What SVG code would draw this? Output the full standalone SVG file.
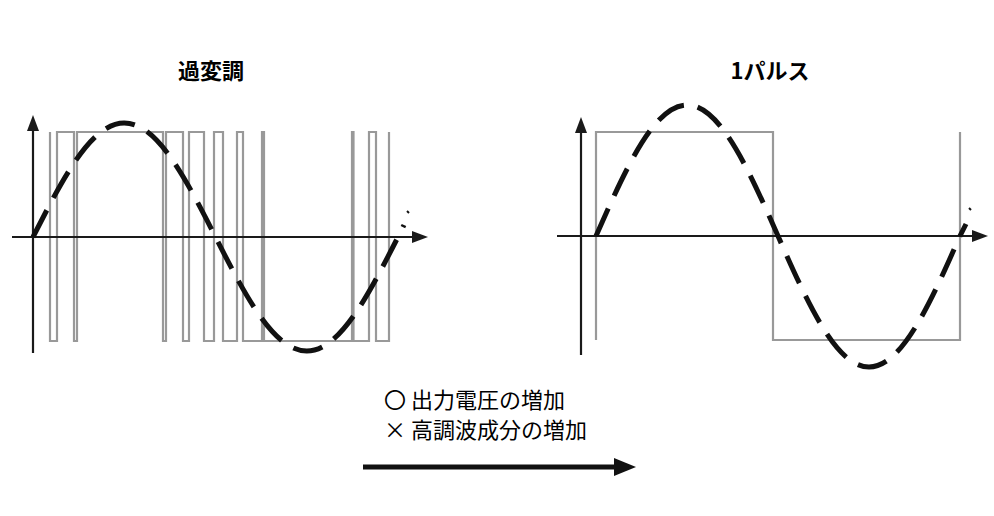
<svg xmlns="http://www.w3.org/2000/svg" width="994" height="516" viewBox="0 0 994 516">
<style>
.ax{stroke:#1a1a1a;stroke-width:2.2;fill:none}
.pw{stroke:#999;stroke-width:2.2;fill:none}
.sn{stroke:#111;stroke-width:5;fill:none;stroke-dasharray:30 14}
.t{font-family:"Noto Sans CJK JP","Noto Sans",sans-serif;fill:#000}
</style>
<g id="left">
<text class="t" x="211" y="79" font-size="22" font-weight="bold" text-anchor="middle">過変調</text>
<path class="pw" d="M50,132V341H57V132H74V341H77V132H163V341H166V132H183V341H189V132H204V341H214V132H223V341H237V132H243V341H262V132H264V341H352V132H353.5V341H369V132H376V341H389V132"/>
<line class="ax" x1="33" y1="353" x2="33" y2="130"/>
<path d="M33,115L27,131L39,131z" fill="#1a1a1a"/>
<line class="ax" x1="12" y1="237" x2="412" y2="237"/>
<path d="M428,237L412,231L412,243z" fill="#1a1a1a"/>
<path class="sn" d="M33,237C62.76,178.6 91.23,123 124.25,123C157.27,123 185.74,178.6 215.5,237C245.26,295.4 273.73,351 306.75,351C339.77,351 368.24,295.4 398,237L404,225"/>
<line x1="407" y1="211" x2="409" y2="213" stroke="#111" stroke-width="2"/>
</g>
<g id="right">
<text class="t" x="770" y="79" font-size="22" font-weight="bold" text-anchor="middle">1パルス</text>
<path class="pw" d="M596,340V132H773V340H960V132"/>
<line class="ax" x1="581" y1="355" x2="581" y2="130"/>
<path d="M581,117L575,133L587,133z" fill="#1a1a1a"/>
<line class="ax" x1="557" y1="236" x2="972" y2="236"/>
<path d="M988,236L972,230L972,242z" fill="#1a1a1a"/>
<path class="sn" d="M596,236C625.68,168.9 654.06,105 687,105C719.94,105 748.32,168.9 778,236C807.68,303.1 836.06,367 869,367C901.94,367 930.32,303.1 960,236L966,224"/>
<line x1="969" y1="208" x2="971" y2="210" stroke="#111" stroke-width="2"/>
</g>
<g id="legend">
<text class="t" x="384" y="408" font-size="22">〇 出力電圧の増加</text>
<text class="t" x="384" y="438" font-size="22">× 高調波成分の増加</text>
</g>
<g id="connectors">
<line x1="363" y1="467" x2="616" y2="467" stroke="#111" stroke-width="5"/>
<path d="M636,467L614,458L614,476z" fill="#111"/>
</g>
</svg>
